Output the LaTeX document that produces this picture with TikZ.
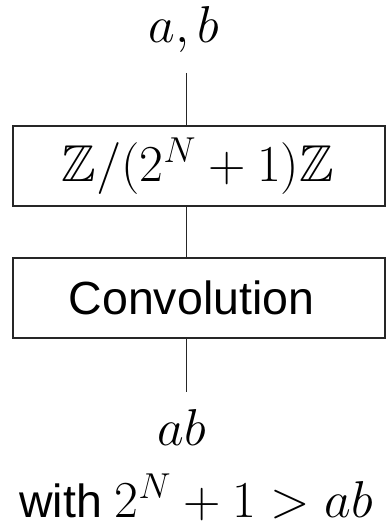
\documentclass[tikz,border=0pt]{standalone}
\usepackage{amssymb}
\usepackage[no-math]{fontspec}
\newfontfamily\arialfont{Liberation Sans}
\tikzset{
  px/.style={x=0.4pt,y=-0.4pt},
  blockbox/.style={draw=black!85,line width=0.45pt,minimum width=148.8pt,minimum height=32pt,inner sep=0pt,font=\huge},
  sanslabel/.style={font=\arialfont\fontsize{18.6}{22}\selectfont},
  mathlabel/.style={font=\huge,inner sep=0pt},
  wire/.style={draw=black!85,line width=0.4pt}
}
\begin{document}
\begin{tikzpicture}[px]
\useasboundingbox (0,0) rectangle (390,531);
\node[mathlabel,anchor=base] (in) at (184,43) {$a,b$};
\node[blockbox] (ring) at (199,166) {\hspace*{-1pt}$\mathbb{Z}/(2^N+1)\mathbb{Z}$};
\node[blockbox,sanslabel] (conv) at (199,298) {\hspace*{-6pt}Convolution};
\node[mathlabel,anchor=base] (out) at (182,445) {$ab$};
\node[sanslabel,anchor=base,inner sep=0pt] (cond) at (196,517) {with {\huge$2^N+1>ab$}};
\coordinate (t1) at (186,73);
\coordinate (t2) at (186,392);
\draw[wire] (t1) -- (t1 |- ring.north);
\draw[wire] (t1 |- ring.south) -- (t1 |- conv.north);
\draw[wire] (t1 |- conv.south) -- (t2);
\end{tikzpicture}
\end{document}
